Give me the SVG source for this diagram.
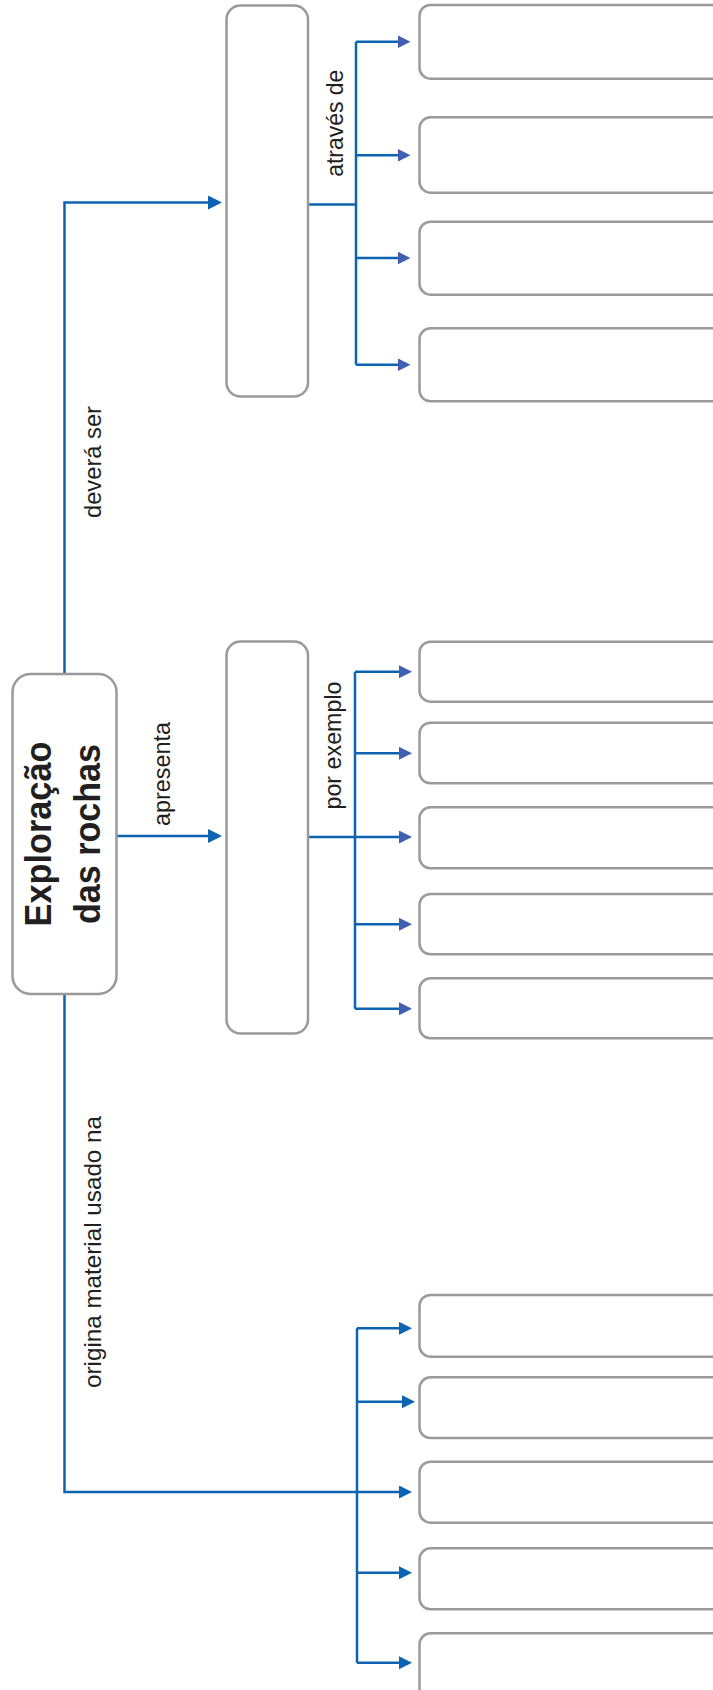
<svg xmlns="http://www.w3.org/2000/svg" width="713" height="1690" viewBox="0 0 713 1690">
<style>
.box{fill:#fff;stroke:#9b999a;stroke-width:2.5}
.ln{fill:none;stroke:#0b63b1;stroke-width:2.5}
.lbl{font-family:"Liberation Sans",Arial,sans-serif;font-size:24px;fill:#231f20;text-anchor:middle}
.ttl{font-family:"Liberation Sans",Arial,sans-serif;font-size:36px;font-weight:bold;fill:#231f20;text-anchor:middle}
</style>
<defs>
<marker id="ah" markerUnits="userSpaceOnUse" markerWidth="14" markerHeight="14" refX="7" refY="6.5" orient="auto">
<path d="M0,0 L13,6.5 L0,13 z" fill="#0b63b1"/>
</marker>
<marker id="ahb" markerUnits="userSpaceOnUse" markerWidth="14" markerHeight="14" refX="7" refY="6.5" orient="auto">
<path d="M0,0 L13,6.5 L0,13 z" fill="#3f5fb0"/>
</marker>
<marker id="ahm" markerUnits="userSpaceOnUse" markerWidth="15" markerHeight="15" refX="7" refY="7" orient="auto">
<path d="M0,0 L14,7 L0,14 z" fill="#0b63b1"/>
</marker>
</defs>

<g id="connectors">
<path class="ln" d="M64.5,674 V202.5 H215" marker-end="url(#ahm)"/>
<path class="ln" d="M64.5,994 V1492 H406" marker-end="url(#ah)"/>
<path class="ln" d="M116.5,836 H215" marker-end="url(#ahm)"/>

<path class="ln" d="M308,204.5 H356"/>
<path class="ln" d="M356,41.7 V364.7"/>
<path class="ln" d="M356,41.7 H404.5" marker-end="url(#ahb)"/>
<path class="ln" d="M356,155.3 H404.5" marker-end="url(#ahb)"/>
<path class="ln" d="M356,258 H404.5" marker-end="url(#ahb)"/>
<path class="ln" d="M356,364.7 H404.5" marker-end="url(#ahb)"/>

<path class="ln" d="M308,837 H406" marker-end="url(#ahb)"/>
<path class="ln" d="M355,671.7 V1008.7"/>
<path class="ln" d="M355,671.7 H406" marker-end="url(#ahb)"/>
<path class="ln" d="M355,753.3 H406" marker-end="url(#ahb)"/>
<path class="ln" d="M355,924.3 H406" marker-end="url(#ahb)"/>
<path class="ln" d="M355,1008.7 H406" marker-end="url(#ahb)"/>

<path class="ln" d="M357,1328.3 V1662.7"/>
<path class="ln" d="M357,1328.3 H406" marker-end="url(#ah)"/>
<path class="ln" d="M357,1401.7 H409" marker-end="url(#ah)"/>
<path class="ln" d="M357,1572.7 H406" marker-end="url(#ah)"/>
<path class="ln" d="M357,1662.7 H406" marker-end="url(#ah)"/>

<text class="lbl" transform="translate(100.5,462) rotate(-90)" textLength="112" lengthAdjust="spacingAndGlyphs">deverá ser</text>
<text class="lbl" transform="translate(100.5,1252) rotate(-90)" textLength="272" lengthAdjust="spacingAndGlyphs">origina material usado na</text>
<text class="lbl" transform="translate(170,774) rotate(-90)" textLength="104" lengthAdjust="spacingAndGlyphs">apresenta</text>
<text class="lbl" transform="translate(341,745.5) rotate(-90)" textLength="128" lengthAdjust="spacingAndGlyphs">por exemplo</text>
<text class="lbl" transform="translate(343,123.3) rotate(-90)" textLength="107" lengthAdjust="spacingAndGlyphs">através de</text>
</g>

<g id="main">
<rect class="box" x="12.5" y="674" width="104" height="320" rx="18"/>
<text class="ttl" transform="translate(51,834) rotate(-90)" textLength="185" lengthAdjust="spacingAndGlyphs">Exploração</text>
<text class="ttl" transform="translate(99.5,834) rotate(-90)" textLength="180" lengthAdjust="spacingAndGlyphs">das rochas</text>
</g>

<g id="n-dever"><rect class="box" x="226.5" y="5.5" width="81.5" height="391" rx="14"/></g>
<g id="n-apresenta"><rect class="box" x="226.5" y="641.5" width="81.5" height="392" rx="14"/></g>

<g id="t1"><rect class="box" x="419.5" y="5" width="320" height="73.7" rx="11"/></g>
<g id="t2"><rect class="box" x="419.5" y="117.3" width="320" height="75.4" rx="11"/></g>
<g id="t3"><rect class="box" x="419.5" y="221.7" width="320" height="73" rx="11"/></g>
<g id="t4"><rect class="box" x="419.5" y="328.3" width="320" height="73" rx="11"/></g>

<g id="m1"><rect class="box" x="419.5" y="641.7" width="320" height="60" rx="11"/></g>
<g id="m2"><rect class="box" x="419.5" y="722.7" width="320" height="60.6" rx="11"/></g>
<g id="m3"><rect class="box" x="419.5" y="807.3" width="320" height="61" rx="11"/></g>
<g id="m4"><rect class="box" x="419.5" y="894" width="320" height="60.3" rx="11"/></g>
<g id="m5"><rect class="box" x="419.5" y="978.3" width="320" height="60" rx="11"/></g>

<g id="b1"><rect class="box" x="419.5" y="1295" width="320" height="61.7" rx="11"/></g>
<g id="b2"><rect class="box" x="419.5" y="1377.3" width="320" height="60.7" rx="11"/></g>
<g id="b3"><rect class="box" x="419.5" y="1461.7" width="320" height="61" rx="11"/></g>
<g id="b4"><rect class="box" x="419.5" y="1548.3" width="320" height="61" rx="11"/></g>
<g id="b5"><rect class="box" x="419.5" y="1633.3" width="320" height="100" rx="11"/></g>
</svg>
